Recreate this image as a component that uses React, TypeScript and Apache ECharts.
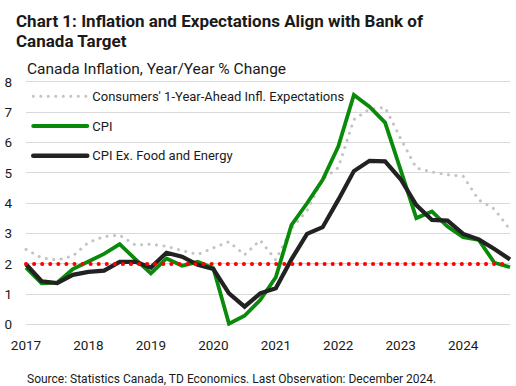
import React, { useEffect, useRef } from "react";
import * as echarts from "echarts";

const quarters = [
  "2017Q1", "2017Q2", "2017Q3", "2017Q4",
  "2018Q1", "2018Q2", "2018Q3", "2018Q4",
  "2019Q1", "2019Q2", "2019Q3", "2019Q4",
  "2020Q1", "2020Q2", "2020Q3", "2020Q4",
  "2021Q1", "2021Q2", "2021Q3", "2021Q4",
  "2022Q1", "2022Q2", "2022Q3", "2022Q4",
  "2023Q1", "2023Q2", "2023Q3", "2023Q4",
  "2024Q1", "2024Q2", "2024Q3", "2024Q4",
];

const expectations = [
  2.47, 2.19, 2.12, 2.25, 2.7, 2.89, 2.94, 2.61,
  2.64, 2.57, 2.43, 2.3, 2.52, 2.72, 2.29, 2.77,
  2.12, 3.15, 3.75, 4.78, 5.16, 6.75, 7.09, 7.15,
  6.12, 5.15, 5.02, 4.93, 4.88, 4.1, 3.8, 3.12,
];

const cpi = [
  1.87, 1.35, 1.37, 1.82, 2.07, 2.32, 2.64, 2.15,
  1.68, 2.17, 1.93, 2.06, 1.85, 0.02, 0.28, 0.8,
  1.55, 3.27, 3.99, 4.76, 5.86, 7.56, 7.17, 6.65,
  5.08, 3.5, 3.72, 3.22, 2.87, 2.78, 2.03, 1.88,
];

const cpiCore = [
  1.98, 1.42, 1.36, 1.63, 1.73, 1.77, 2.06, 2.06,
  1.87, 2.36, 2.23, 1.96, 1.82, 1.02, 0.58, 1.02,
  1.19, 2.14, 2.98, 3.2, 4.1, 5.05, 5.39, 5.37,
  4.78, 3.93, 3.44, 3.42, 2.98, 2.8, 2.48, 2.14,
];

const target = 2;

const seriesNames = [
  "Consumers' 1-Year-Ahead Infl. Expectations",
  "CPI",
  "CPI Ex. Food and Energy",
];

const titleLines = [
  "Chart 1: Inflation and Expectations Align with Bank of",
  "Canada Target",
];
const subtitle = "Canada Inflation, Year/Year % Change";
const sourceNote =
  "Source: Statistics Canada, TD Economics. Last Observation: December 2024.";

const FONT = "Roboto, 'Noto Sans', sans-serif";
const GRAY = "#c4c4c4";
const GREEN = "#0a8a0a";
const BLACK = "#222222";
const RED = "#ff0000";

export default function App() {
  const ref = useRef<HTMLDivElement>(null);

  useEffect(() => {
    if (!ref.current) return;
    const chart = echarts.init(ref.current, undefined, { renderer: "svg" });
    const grayLine = { color: GRAY, width: 3, type: [0.1, 7.4], cap: "round" };
    const greenLine = { color: GREEN, width: 3.8, cap: "butt", join: "miter" };
    const blackLine = { color: BLACK, width: 4.2, cap: "butt", join: "miter" };

    chart.setOption({
      animation: false,
      backgroundColor: "#ffffff",
      textStyle: { fontFamily: FONT },
      graphic: [
        {
          type: "text",
          x: 16,
          y: 10.8,
          style: {
            text: titleLines.join("\n"),
            fontFamily: FONT,
            fontSize: 17,
            lineHeight: 20,
            fontWeight: "bold",
            fill: "#1a1a1a",
            verticalAlign: "top",
          },
        },
        {
          type: "text",
          x: 27,
          y: 69,
          style: {
            text: subtitle,
            fontFamily: FONT,
            fontSize: 15.5,
            fill: "#1a1a1a",
            verticalAlign: "middle",
          },
        },
        {
          type: "text",
          x: 27,
          y: 379,
          style: {
            text: sourceNote,
            fontFamily: FONT,
            fontSize: 12,
            fill: "#1a1a1a",
            verticalAlign: "middle",
          },
        },
      ],
      grid: { left: 26, right: 6, top: 81.6, bottom: 61.7, containLabel: false },
      legend: {
        orient: "vertical",
        left: 31,
        top: 89.7,
        padding: 0,
        itemWidth: 54,
        itemHeight: 14,
        itemGap: 16.8,
        itemStyle: { opacity: 0 },
        textStyle: { fontFamily: FONT, fontSize: 13, color: "#1a1a1a" },
        data: [
          { name: seriesNames[0], lineStyle: { width: 3 }, itemStyle: { opacity: 0 } },
          { name: seriesNames[1], lineStyle: { width: 4, cap: "round" }, itemStyle: { opacity: 0 } },
          { name: seriesNames[2], lineStyle: { width: 4.5, cap: "round" }, itemStyle: { opacity: 0 } },
        ],
      },
      xAxis: {
        type: "category",
        data: quarters,
        boundaryGap: false,
        axisLine: { show: false },
        axisTick: { show: false },
        axisLabel: {
          interval: 3,
          margin: 14,
          fontFamily: FONT,
          fontSize: 13.5,
          color: "#1a1a1a",
          formatter: (v: string) => v.slice(0, 4),
        },
        splitLine: { show: false },
      },
      yAxis: {
        type: "value",
        min: 0,
        max: 8,
        interval: 1,
        axisLine: { show: false },
        axisTick: { show: false },
        axisLabel: {
          margin: 14,
          fontFamily: FONT,
          fontSize: 13.5,
          color: "#1a1a1a",
        },
        splitLine: { lineStyle: { color: "#d9d9d9", width: 1 } },
      },
      series: [
        {
          name: seriesNames[0],
          type: "line",
          data: expectations,
          symbol: "none",
          lineStyle: grayLine,
          z: 2,
        },
        {
          name: seriesNames[1],
          type: "line",
          data: cpi,
          symbol: "none",
          lineStyle: greenLine,
          z: 3,
        },
        {
          name: seriesNames[2],
          type: "line",
          data: cpiCore,
          symbol: "none",
          lineStyle: blackLine,
          z: 4,
          markLine: {
            silent: true,
            symbol: ["none", "none"],
            label: { show: false },
            lineStyle: { color: RED, width: 4, type: [0.1, 7.97], cap: "round" },
            data: [{ yAxis: target }],
          },
        },
      ],
    });

    return () => chart.dispose();
  }, []);

  return (
    <div
      ref={ref}
      style={{ position: "absolute", left: 0, top: 0, width: 516, height: 386 }}
    />
  );
}
